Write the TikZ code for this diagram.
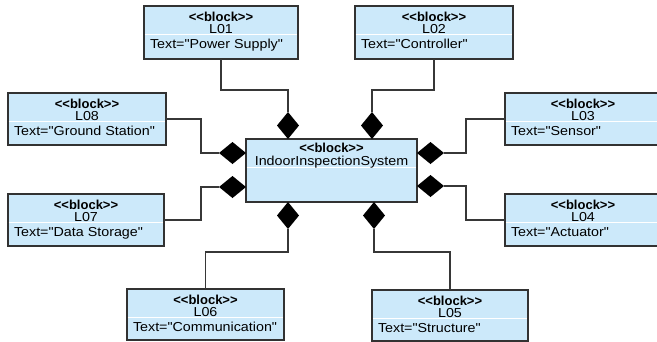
\documentclass[tikz,border=0pt]{standalone}
\usepackage{fontspec}
\newfontfamily\regf{Liberation Sans}[FakeStretch=1.1]
\newfontfamily\blkb{Liberation Sans Bold}
\usetikzlibrary{shapes.geometric,calc}
\definecolor{blkfill}{RGB}{204,233,250}
\definecolor{blkline}{RGB}{50,50,50}
\definecolor{connc}{RGB}{55,55,55}
\definecolor{sepc}{RGB}{150,165,175}
\tikzset{
  blockbox/.style={draw=blkline, fill=blkfill, line width=1.5pt, inner sep=0pt, outer sep=0pt},
  txt/.style={inner sep=0pt, outer sep=0pt, text height=6pt, text depth=1pt, font=\regf\fontsize{13pt}{15pt}\selectfont},
  hdr/.style={inner sep=0pt, outer sep=0pt, align=center, font=\regf\fontsize{13pt}{11.5pt}\selectfont},
  connline/.style={draw=connc, line width=1.2pt},
  diamV/.style={shape=diamond, fill=black, inner sep=0pt, outer sep=0pt, minimum width=22pt, minimum height=27pt},
  diamH/.style={shape=diamond, fill=black, inner sep=0pt, outer sep=0pt, minimum width=27pt, minimum height=22pt},
}
% name, x, y, w, h, label, text
\newcommand\blkdraw[7]{%
  \node[blockbox, minimum width=#4pt, minimum height=#5pt, anchor=north west] (#1) at (#2,#3) {};
  \draw[sepc, line width=0.9pt] ([xshift=0.8pt,yshift=-28pt]#1.north west) -- ([xshift=-0.8pt,yshift=-28pt]#1.north east);
  \draw[white, line width=0.9pt] ([xshift=0.8pt,yshift=-28.9pt]#1.north west) -- ([xshift=-0.8pt,yshift=-28.9pt]#1.north east);
  \node[txt, anchor=base] at ([yshift=-15.5pt]#1.north) {\blkb\fontsize{13pt}{15pt}\selectfont <<block>>};
  \node[txt, anchor=base] at ([yshift=-27pt]#1.north) {#6};
  \node[txt, anchor=base west] at ([xshift=6pt,yshift=-42pt]#1.north west) {#7};
}
\begin{document}
\begin{tikzpicture}[x=1pt,y=-1pt]
\useasboundingbox (0,0) rectangle (657,341);
\fill[white] (0,0) rectangle (657,341);
\clip (0,0) rectangle (657,341);

\blkdraw{L01}{144}{6}{154}{53}{L01}{Text="Power Supply"}
\blkdraw{L02}{355}{6}{158}{53}{L02}{Text="Controller"}
\blkdraw{L08}{8}{93}{158}{52}{L08}{Text="Ground Station"}
\blkdraw{L03}{505}{93}{156}{52}{L03}{Text="Sensor"}
\blkdraw{L07}{8}{194}{156}{52}{L07}{Text="Data Storage"}
\blkdraw{L04}{505}{194}{156}{52}{L04}{Text="Actuator"}
\blkdraw{L06}{127}{289}{157}{51}{L06}{Text="Communication"}
\blkdraw{L05}{372}{290}{156}{51}{L05}{Text="Structure"}

% main block
\node[blockbox, minimum width=171pt, minimum height=63pt, anchor=north west] (main) at (246,139) {};
\draw[sepc, line width=0.9pt] ([xshift=0.8pt,yshift=-28pt]main.north west) -- ([xshift=-0.8pt,yshift=-28pt]main.north east);
\draw[white, line width=0.9pt] ([xshift=0.8pt,yshift=-28.9pt]main.north west) -- ([xshift=-0.8pt,yshift=-28.9pt]main.north east);
\node[txt, anchor=base] at ([yshift=-13pt]main.north) {\blkb\fontsize{13pt}{15pt}\selectfont <<block>>};
\node[txt, anchor=base] at ([yshift=-26pt]main.north) {IndoorInspectionSystem};

% diamonds
\node[diamV, anchor=south] (dT1) at ($(main.north west)+(42,0)$) {};
\node[diamV, anchor=south] (dT2) at ($(main.north west)+(126,0)$) {};
\node[diamV, anchor=north] (dB1) at ($(main.south west)+(42,0)$) {};
\node[diamV, anchor=north] (dB2) at ($(main.south west)+(128,0)$) {};
\node[diamH, anchor=east] (dL1) at ($(main.north west)+(0,14)$) {};
\node[diamH, anchor=east] (dL2) at ($(main.north west)+(0,48)$) {};
\node[diamH, anchor=west] (dR1) at ($(main.north east)+(0,14)$) {};
\node[diamH, anchor=west] (dR2) at ($(main.north east)+(0,47)$) {};

% junctions
\coordinate (jT1) at (dT1.north |- 0,90);
\coordinate (jT2) at (dT2.north |- 0,90);
\coordinate (jB1) at (dB1.south |- 0,252);
\coordinate (jB2) at (dB2.south |- 0,252);
\coordinate (jL1) at (dL1.west -| 201,0);
\coordinate (jL2) at (dL2.west -| 201,0);
\coordinate (jR1) at (dR1.east -| 466,0);
\coordinate (jR2) at (dR2.east -| 466,0);

% connectors
\draw[connline] (L01.south) |- (jT1) -- (dT1.north);
\draw[connline] (L02.south) |- (jT2) -- (dT2.north);
\draw[connline] (L08.east) -| (jL1) -- (dL1.west);
\draw[connline] (L07.east) -| (jL2) -- (dL2.west);
\draw[connline] (L03.west) -| (jR1) -- (dR1.east);
\draw[connline] (L04.west) -| (jR2) -- (dR2.east);
\draw[connline] (L06.north) |- (jB1) -- (dB1.south);
\draw[connline] (L05.north) |- (jB2) -- (dB2.south);
\end{tikzpicture}
\end{document}
